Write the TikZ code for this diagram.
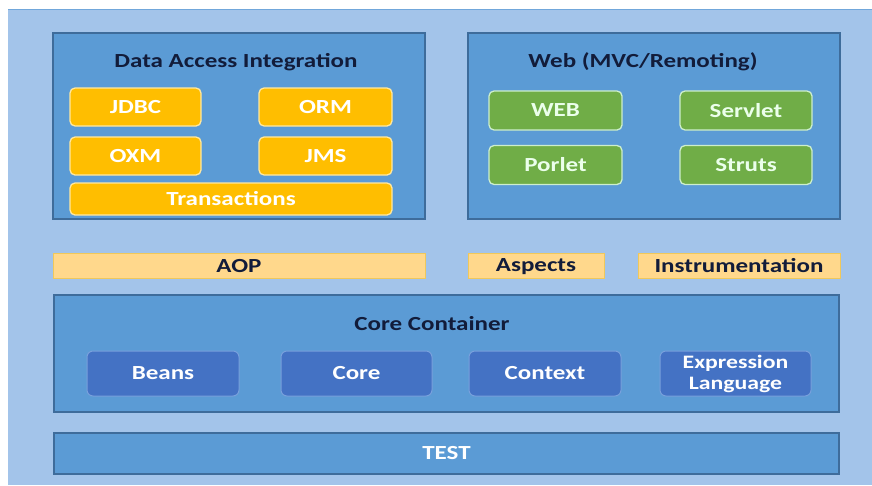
\documentclass[tikz,border=0pt]{standalone}
\usepackage{fontspec}
\setmainfont{Carlito}[FakeStretch=1.25]
\definecolor{bgblue}{RGB}{163,196,234}
\definecolor{panelblue}{RGB}{91,155,213}
\definecolor{panelline}{RGB}{62,108,155}
\definecolor{modorange}{RGB}{255,190,0}
\definecolor{modorangeline}{RGB}{255,232,160}
\definecolor{modgreen}{RGB}{112,173,71}
\definecolor{modgreenline}{RGB}{205,238,205}
\definecolor{bandyellow}{RGB}{255,216,140}
\definecolor{bandline}{RGB}{240,200,90}
\definecolor{coreblue}{RGB}{68,114,196}
\definecolor{corebline}{RGB}{120,160,220}
\definecolor{darktext}{RGB}{18,28,58}
\begin{document}
\begin{tikzpicture}[x=1pt,y=-1pt,font=\fontsize{20}{22}\selectfont\bfseries,
    panel/.style={draw=panelline,fill=panelblue,line width=1.2pt,inner sep=0pt},
    orangebox/.style={draw=modorangeline,fill=modorange,line width=1.3pt,rounded corners=5pt,
      text=white,inner sep=0pt,minimum height=38pt},
    greenbox/.style={draw=modgreenline,fill=modgreen,line width=1.3pt,rounded corners=5pt,
      text=white!92!green,inner sep=0pt,minimum width=133pt,minimum height=39pt},
    bandbox/.style={draw=bandline,fill=bandyellow,line width=0.8pt,text=darktext,
      inner sep=0pt,minimum height=25pt,text depth=0pt},
    corebox/.style={draw=corebline,fill=coreblue,line width=1pt,rounded corners=6pt,
      text=white,inner sep=0pt,minimum width=152pt,minimum height=45pt,align=center},
    title/.style={text=darktext,text depth=0pt}]
                % page and background
                \useasboundingbox[fill=white] (0,0) rectangle (872,485);
                \fill[bgblue] (8,9) rectangle (872,485);
                \draw[panelblue!70!bgblue,line width=1pt] (8,9.5)--(872,9.5);
                % upper panels
                \node[panel,minimum width=372pt,minimum height=186pt] (dataPanel) at (239,126) {};
                \node[panel,minimum width=372pt,minimum height=186pt] (webPanel) at (654,126) {};
                \node[title] (dataTitle) at (236,60) {Data Access Integration};
                \node[title] (webTitle) at (643,60) {Web (MVC/Remoting)};
                \node[orangebox,minimum width=131pt] (jdbc) at (135.5,107) {JDBC};
                \node[orangebox,minimum width=133pt] (orm) at (325.5,107) {ORM};
                \node[orangebox,minimum width=131pt] (oxm) at (135.5,156) {OXM};
                \node[orangebox,minimum width=133pt] (jms) at (325.5,156) {JMS};
                \node[orangebox,minimum width=322pt,minimum height=32pt] (transactions) at (231,199) {Transactions};
                \node[greenbox] (web) at (555.5,110.5) {WEB};
                \node[greenbox,minimum width=132pt] (servlet) at (746,110.5) {Servlet};
                \node[greenbox] (porlet) at (555.5,165) {Porlet};
                \node[greenbox,minimum width=132pt] (struts) at (746,165) {Struts};
                % middle band
                \node[bandbox,minimum width=372pt] (aop) at (239,265.5) {AOP};
                \node[bandbox,minimum width=136pt] (aspects) at (536,265.5) {Aspects};
                \node[bandbox,minimum width=202pt] (instrumentation) at (739,265.5) {Instrumentation};
                % core container
                \node[panel,minimum width=785pt,minimum height=117pt] (corePanel) at (446.5,353.5) {};
                \node[title] (coreTitle) at (432,323) {Core Container};
                \node[corebox] (beans) at (163,373.5) {Beans};
                \node[corebox,minimum width=151pt] (core) at (356.5,373.5) {Core};
                \node[corebox] (context) at (545,373.5) {Context};
                \node[corebox,minimum width=151pt,font=\fontsize{19}{21}\selectfont\bfseries] (expr) at (735.5,373.5) {Expression\\Language};
                % test
                \node[panel,minimum width=785pt,minimum height=41pt,text=white] (test) at (446.5,453.5) {TEST};
            \end{tikzpicture}
\end{document}
